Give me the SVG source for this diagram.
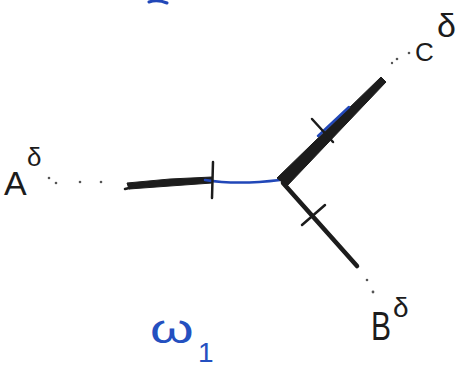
<svg xmlns="http://www.w3.org/2000/svg" width="467" height="370" viewBox="0 0 467 370">
<style>
.ink{fill:none;stroke:#1c1c1c;stroke-linecap:round;stroke-linejoin:round}
.inkf{fill:#1c1c1c;stroke:#1c1c1c;stroke-width:1;stroke-linejoin:round}
.blue{fill:none;stroke:#2147b8;stroke-linecap:round;stroke-linejoin:round}
.dot{fill:#555}
.lbl{font-family:"Liberation Sans",Arial,sans-serif;fill:#1c1c1c}
.lblb{font-family:"Liberation Sans",Arial,sans-serif;fill:#2450c0}
</style>
<rect width="467" height="370" fill="#fff"/>
<g id="connectors">
  <!-- left edge -->
  <polygon class="inkf" d="" points="127,183 170,179 212,177 212,183 170,186 129,189"/>
  <path class="ink" d="M125,189 L150,183" stroke-width="2.5"/>
  <path class="blue" d="M205,180 C230,184 255,183 280,180" stroke-width="2.5"/>
  <path class="ink" d="M213,162 L212,198" stroke-width="2.5"/>
  <!-- upper right edge -->
  <polygon class="inkf" points="277,178 381,77 386,82 287,186"/>
  <path class="blue" d="M318,136 L349,107" stroke-width="2.5"/>
  <path class="ink" d="M312,119 L333,142" stroke-width="2.5"/>
  <!-- lower right edge -->
  <path class="ink" d="M283,183 L357,266" stroke-width="4.5"/>
  <path class="ink" d="M302,225 L325,205" stroke-width="2.5"/>
  <!-- dotted continuations -->
  <circle class="dot" cx="49" cy="178" r="1.3"/>
  <circle class="dot" cx="56" cy="183" r="1.3"/>
  <circle class="dot" cx="80" cy="182" r="1.3"/>
  <circle class="dot" cx="101" cy="182" r="1.3"/>
  <circle class="dot" cx="392" cy="63" r="1.2"/>
  <circle class="dot" cx="397" cy="59" r="1.3"/>
  <circle class="dot" cx="409" cy="53" r="1.3"/>
  <circle class="dot" cx="367" cy="280" r="1.3"/>
  <circle class="dot" cx="373" cy="292" r="1.4"/>
  <!-- top blue fragment -->
  <path class="blue" d="M149,2 C155,0 162,1 167,3" stroke-width="3"/>
</g>
<g id="nodeA">
  <text class="lbl" x="4" y="195" font-size="34">A</text>
  <text class="lbl" x="27" y="166" font-size="26">δ</text>
</g>
<g id="nodeC">
  <text class="lbl" x="415" y="61" font-size="26">C</text>
  <text class="lbl" x="437" y="37" font-size="34">δ</text>
</g>
<g id="nodeB">
  <text class="lbl" x="371" y="340" font-size="40" transform="translate(371 340) scale(0.75 1) translate(-371 -340)">B</text>
  <text class="lbl" x="393" y="317" font-size="28">δ</text>
</g>
<g id="labelW">
  <text class="lblb" x="150" y="343" font-size="40" transform="translate(150 343) scale(1.4 1) translate(-150 -343)">ω</text>
  <text class="lblb" x="198" y="362" font-size="28">1</text>
</g>
</svg>
